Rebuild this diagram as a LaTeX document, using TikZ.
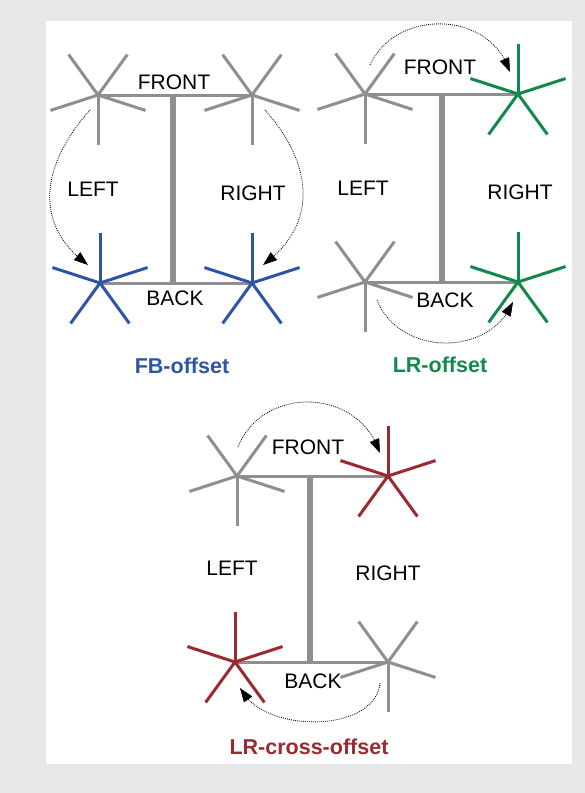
\documentclass[tikz,border=0pt]{standalone}
\usepackage{fontspec}
\setmainfont{Liberation Sans}
\usetikzlibrary{arrows.meta,bending}
\definecolor{bg}{HTML}{E6E7E8}
\definecolor{sgray}{HTML}{8F8F8F}
\definecolor{fbblue}{HTML}{2D55A6}
\definecolor{lrgreen}{HTML}{12894A}
\definecolor{lrred}{HTML}{9A2A2F}
\tikzset{
  spoke/.style={line width=3pt},
  linkline/.style={sgray, line width=3pt},
  barline/.style={sgray, line width=6.5pt},
  lbl/.style={font=\fontsize{21}{25}\selectfont, inner sep=0pt},
  ttl/.style={font=\fontsize{21.5}{25}\selectfont\bfseries, inner sep=0pt},
  moveline/.style={dash pattern=on 0.9pt off 1.1pt, line width=0.8pt,
    -{Triangle[length=14pt,width=10pt,fill=black,line width=0.5pt]}},
}
\newcommand\spokestar[3]{\foreach \a in {0,72,144,216,288}{\draw[spoke,#2] (#1) -- ++(#3+\a:50pt);}}
\begin{document}
\begin{tikzpicture}[x=1pt,y=1pt]
\fill[bg] (0,0) rectangle (585,-793);
\useasboundingbox (0,0) rectangle (585,-793);
\fill[white] (46,-20.5) rectangle (572,-764);

% ---------- Panel 1: FB-offset ----------
\coordinate (fl1) at (98,-95);
\coordinate (fr1) at (252,-95);
\coordinate (bl1) at (100,-283);
\coordinate (br1) at (252,-283);
\coordinate (ft1) at (173,-95);
\coordinate (bt1) at (173,-283);
\draw[barline] (ft1) -- (bt1);
\draw[linkline] (fl1) -- (fr1);
\draw[linkline] (bl1) -- (br1);
\spokestar{fl1}{sgray}{270}
\spokestar{fr1}{sgray}{270}
\spokestar{bl1}{fbblue}{90}
\spokestar{br1}{fbblue}{90}
\node[lbl] (front1) at (174,-82) {FRONT};
\node[lbl] (left1) at (93,-189) {LEFT};
\node[lbl] (right1) at (253,-193) {RIGHT};
\node[lbl] (back1) at (175,-298) {BACK};
\node[ttl, text=fbblue] (title1) at (182,-366) {FB-offset};
\coordinate (s1a) at (90,-110);
\coordinate (e1a) at (88,-265);
\coordinate (s1b) at (265,-110);
\coordinate (e1b) at (263,-265);
\draw[moveline] (s1a) .. controls (45,-160) and (29,-222) .. (e1a);
\draw[moveline] (s1b) .. controls (310,-160) and (322,-222) .. (e1b);

% ---------- Panel 2: LR-offset ----------
\coordinate (fl2) at (365,-94);
\coordinate (fr2) at (518,-94);
\coordinate (bl2) at (365,-282);
\coordinate (br2) at (518,-282);
\coordinate (ft2) at (442,-94);
\coordinate (bt2) at (442,-282);
\draw[barline] (ft2) -- (bt2);
\draw[linkline] (fl2) -- (fr2);
\draw[linkline] (bl2) -- (br2);
\spokestar{fl2}{sgray}{270}
\spokestar{bl2}{sgray}{270}
\spokestar{fr2}{lrgreen}{90}
\spokestar{br2}{lrgreen}{90}
\node[lbl] (front2) at (440,-67) {FRONT};
\node[lbl] (left2) at (363,-188) {LEFT};
\node[lbl] (right2) at (520,-192) {RIGHT};
\node[lbl] (back2) at (445,-300) {BACK};
\node[ttl, text=lrgreen] (title2) at (440,-365) {LR-offset};
\coordinate (s2a) at (370,-65);
\coordinate (e2a) at (510,-72);
\coordinate (s2b) at (377,-300);
\coordinate (e2b) at (513,-302);
\draw[moveline] (s2a) .. controls (395,-9) and (490,-9) .. (e2a);
\draw[moveline] (s2b) .. controls (400,-357) and (490,-357) .. (e2b);

% ---------- Panel 3: LR-cross-offset ----------
\coordinate (fl3) at (237,-476);
\coordinate (fr3) at (388,-476);
\coordinate (bl3) at (235,-662);
\coordinate (br3) at (388,-662);
\coordinate (ft3) at (310,-476);
\coordinate (bt3) at (310,-662);
\draw[barline] (ft3) -- (bt3);
\draw[linkline] (fl3) -- (fr3);
\draw[linkline] (bl3) -- (br3);
\spokestar{fl3}{sgray}{270}
\spokestar{br3}{sgray}{270}
\spokestar{fr3}{lrred}{90}
\spokestar{bl3}{lrred}{90}
\node[lbl] (front3) at (308,-447) {FRONT};
\node[lbl] (left3) at (232,-568) {LEFT};
\node[lbl] (right3) at (388,-573) {RIGHT};
\node[lbl] (back3) at (313,-681) {BACK};
\node[ttl, text=lrred] (title3) at (309,-747) {LR-cross-offset};
\coordinate (s3a) at (238,-447);
\coordinate (e3a) at (380,-453);
\coordinate (s3b) at (380,-683);
\coordinate (e3b) at (240,-688);
\draw[moveline] (s3a) .. controls (262,-386) and (358,-386) .. (e3a);
\draw[moveline] (s3b) .. controls (375,-734) and (262,-734) .. (e3b);
\end{tikzpicture}
\end{document}
